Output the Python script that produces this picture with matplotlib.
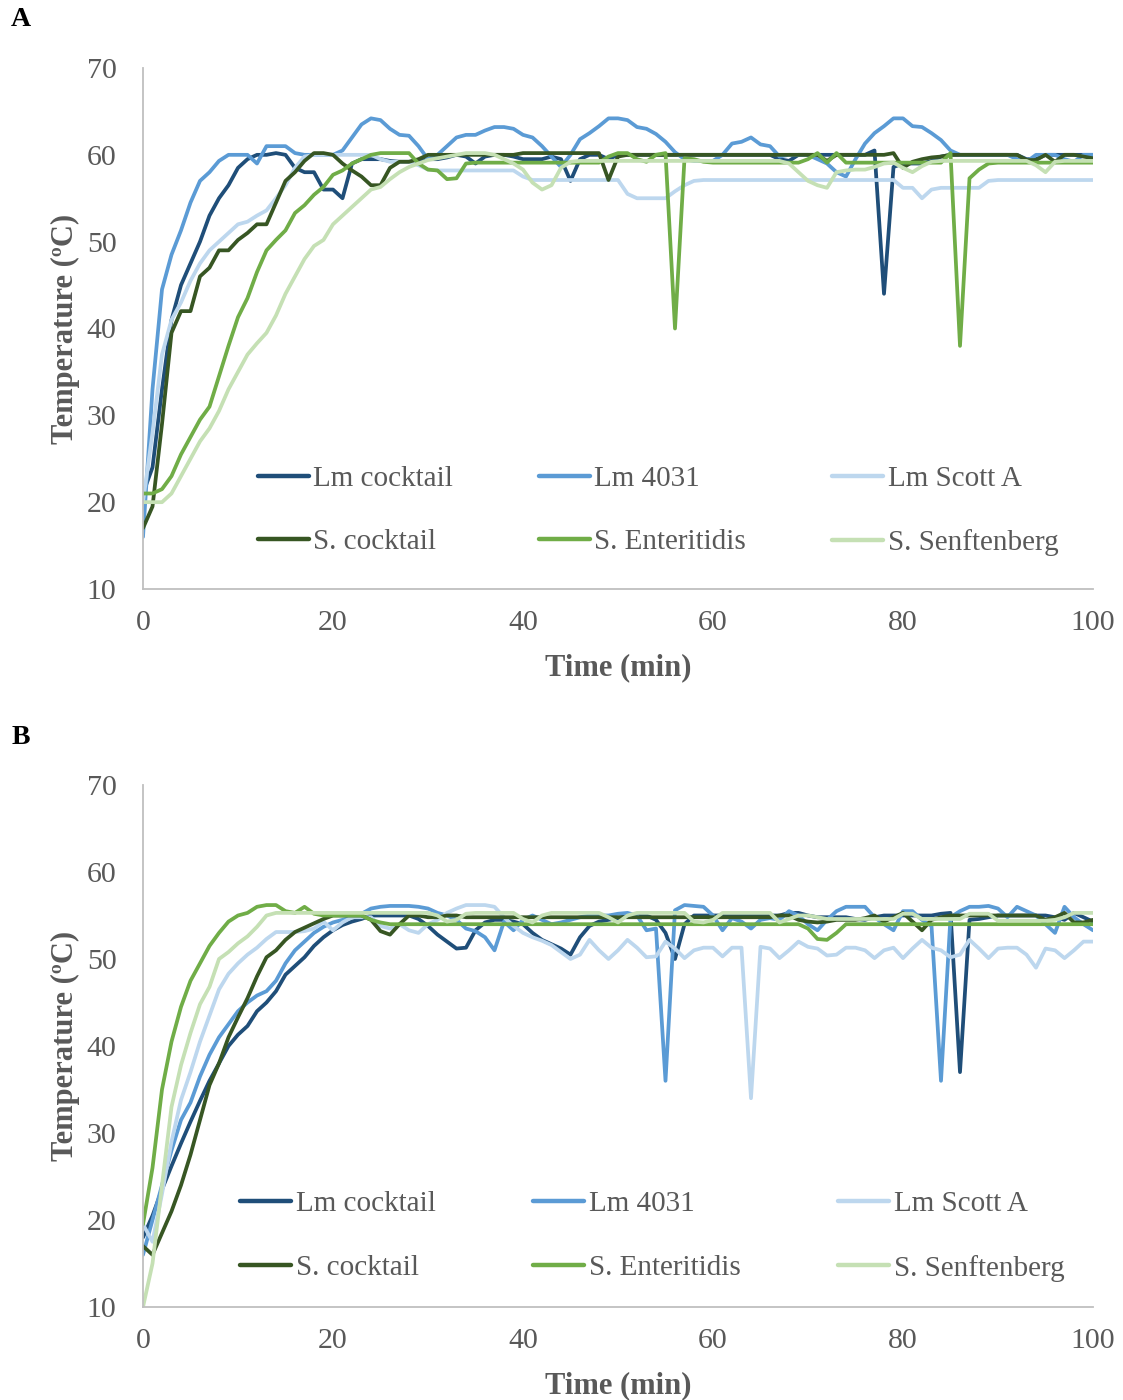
import matplotlib
matplotlib.use("Agg")
import matplotlib.pyplot as plt

# ---------------- data ----------------
time_min = list(range(0, 101))
series_names = ["Lm cocktail", "Lm 4031", "Lm Scott A",
                "S. cocktail", "S. Enteritidis", "S. Senftenberg"]
series_colors = ["#1F4E79", "#5B9BD5", "#BDD7EE", "#375623", "#70AD47", "#C5E0B4"]
x_ticks = [0, 20, 40, 60, 80, 100]
y_ticks = [10, 20, 30, 40, 50, 60, 70]

# Panel A
A_lm_cocktail = [
    21, 24, 33, 41, 45, 47.5, 50, 53, 55, 56.5,
    58.5, 59.5, 60, 60, 60.2, 60, 58.5, 58, 58, 56,
    56, 55, 59, 59.5, 59.5, 59.5, 59.3, 59.2, 59.2, 59.3,
    59.5, 59.5, 59.7, 60, 59.8, 59, 59.8, 60, 60, 59.8,
    59.5, 59.5, 59.5, 59.8, 59.5, 57, 59.5, 60, 60, 59.5,
    60, 60, 60, 60, 60, 60, 60, 60, 60, 60,
    60, 60, 60, 60, 60, 60, 60, 59.5, 59.3, 60,
    60, 60, 60, 60, 60, 60, 60, 60.5, 44, 58.6,
    59, 59, 59, 59.3, 59.8, 60, 60, 60, 60, 60,
    60, 60, 60, 59.5, 59.5, 60, 60, 60, 60, 60,
    60]
A_lm_4031 = [
    16, 33, 44.5, 48.5, 51.3, 54.5, 57, 58, 59.3, 60,
    60, 60, 59, 61, 61, 61, 60.2, 60, 60, 60,
    60, 60.5, 62, 63.5, 64.2, 64, 63, 62.3, 62.2, 61,
    59.5, 60, 61, 62, 62.3, 62.3, 62.8, 63.2, 63.2, 63,
    62.3, 62, 61, 59.8, 58.6, 60, 61.8, 62.5, 63.3, 64.2,
    64.2, 64, 63.2, 63, 62.4, 61.5, 60.3, 59.5, 59.3, 59.3,
    59.3, 60, 61.3, 61.5, 62, 61.2, 61, 59.8, 60, 60,
    60, 59.5, 59, 58, 57.5, 59.5, 61.3, 62.5, 63.3, 64.2,
    64.2, 63.3, 63.2, 62.5, 61.7, 60.5, 60, 60, 60, 60,
    60, 60, 59.5, 59.2, 60, 60, 60, 59.5, 59.2, 60,
    60]
A_lm_scottA = [
    20, 28, 37, 41, 43, 45.5, 47.5, 49, 50, 51,
    52, 52.3, 53, 53.6, 55, 56.5, 58.5, 59.8, 60, 60,
    60, 60, 60, 60, 60, 59.5, 59.2, 59.2, 59.2, 58.8,
    58.3, 58.2, 58.2, 58.2, 58.2, 58.2, 58.2, 58.2, 58.2, 58.2,
    57.5, 57.1, 57.1, 57.1, 57.1, 57.1, 57.1, 57.1, 57.1, 57.1,
    57.1, 55.5, 55, 55, 55, 55, 55.8, 56.5, 57, 57.1,
    57.1, 57.1, 57.1, 57.1, 57.1, 57.1, 57.1, 57.1, 57.1, 57.1,
    57.1, 57.1, 57.1, 57.1, 57.1, 57.1, 57.1, 57.1, 57.1, 57.1,
    56.2, 56.2, 55, 56, 56.2, 56.2, 56.2, 56.2, 56.2, 57,
    57.1, 57.1, 57.1, 57.1, 57.1, 57.1, 57.1, 57.1, 57.1, 57.1,
    57.1]
A_s_cocktail = [
    17, 19.5, 29, 39.5, 42, 42, 46, 47, 49, 49,
    50.2, 51, 52, 52, 54.5, 57, 58, 59.3, 60.2, 60.2,
    60, 59, 58.2, 57.5, 56.5, 56.5, 58.5, 59.2, 59.2, 59.5,
    60, 60, 60, 60, 60, 60, 60, 60, 60, 60,
    60.2, 60.2, 60.2, 60.2, 60.2, 60.2, 60.2, 60.2, 60.2, 57.1,
    59.8, 60, 60, 60, 60, 60, 60, 60, 60, 60,
    60, 60, 60, 60, 60, 60, 60, 60, 60, 60,
    60, 60, 59.3, 60, 60, 60, 60, 60, 60, 60.2,
    58.5, 59.2, 59.5, 59.7, 59.8, 60, 60, 60, 60, 60,
    60, 60, 60, 59.4, 59.4, 60, 59.2, 60, 60, 59.8,
    59.6]
A_s_enteritidis = [
    21, 21, 21.5, 23, 25.5, 27.5, 29.5, 31, 34.5, 38,
    41.3, 43.5, 46.5, 49, 50.2, 51.3, 53.3, 54.2, 55.4, 56.3,
    57.7, 58.2, 59, 59.5, 60, 60.2, 60.2, 60.2, 60.2, 59,
    58.3, 58.2, 57.2, 57.3, 59, 59.1, 59.1, 59.1, 59.1, 59.1,
    59.1, 59.1, 59.1, 59.1, 59.1, 59.1, 59.1, 59.1, 59.1, 59.8,
    60.2, 60.2, 59.5, 59.2, 60, 60.2, 40, 59.6, 59.5, 59.2,
    59.1, 59.1, 59.1, 59.1, 59.1, 59.1, 59.1, 59.1, 59.1, 59.1,
    59.5, 60.2, 59.1, 60.2, 59.1, 59.1, 59.1, 59.1, 59.1, 59.1,
    59.1, 59.1, 59.1, 59.1, 59.1, 60.2, 38, 57.3, 58.3, 59,
    59.1, 59.1, 59.1, 59.1, 59.1, 59.1, 59.1, 59.1, 59.1, 59.1,
    59.1]
A_s_senftenberg = [
    20, 20, 20, 21, 23, 25, 27, 28.5, 30.5, 33,
    35, 37, 38.3, 39.5, 41.5, 44, 46, 48, 49.5, 50.2,
    52, 53, 54, 55, 56, 56.3, 57.2, 58, 58.6, 59,
    59.4, 59.6, 59.8, 60, 60.2, 60.2, 60.2, 60, 59.5, 59,
    58.3, 56.8, 56, 56.5, 58.5, 59.2, 59.3, 59.3, 59.3, 59.3,
    59.3, 59.3, 59.3, 59.3, 59.3, 59.3, 59.3, 59.3, 59.3, 59.3,
    59.3, 59.3, 59.3, 59.3, 59.3, 59.3, 59.3, 59.3, 59, 58,
    57, 56.5, 56.2, 58, 58.2, 58.3, 58.3, 58.6, 59, 59.1,
    58.5, 58, 58.7, 59.2, 59.3, 59.3, 59.3, 59.3, 59.3, 59.3,
    59.3, 59.3, 59.3, 59.3, 58.8, 58, 59.2, 59.3, 59.3, 59.3,
    59.3]

# Panel B
B_lm_cocktail = [
    18, 20.5, 23.5, 26.2, 28.8, 31.3, 33.7, 36, 38, 40,
    41.3, 42.3, 44, 45, 46.3, 48.2, 49.2, 50.2, 51.5, 52.5,
    53.3, 53.9, 54.3, 54.6, 55, 55, 55, 55, 55, 54.6,
    53.8, 52.8, 52, 51.2, 51.3, 53.3, 54.2, 54.5, 54.5, 54.3,
    54, 53, 52.2, 51.7, 51.2, 50.5, 52.5, 53.8, 54.3, 54.5,
    54.7, 55, 55, 55, 54.5, 53, 50, 54, 55, 55,
    55, 55, 55, 55, 55, 55, 55, 55, 55.3, 55.3,
    55, 54.8, 54.8, 54.8, 54.8, 54.6, 54.5, 54.8, 55, 55,
    55, 55, 55, 55, 55.2, 55.3, 37, 54.5, 54.6, 54.8,
    55, 55, 55, 55, 55, 55, 54.8, 54.5, 55.3, 54.8,
    54.3]
B_lm_4031 = [
    16, 20, 24, 28, 31.5, 33.5, 36.5, 39, 41, 42.5,
    44, 45, 45.8, 46.3, 47.5, 49.5, 51, 52, 53, 53.7,
    54.2, 54.5, 54.8, 55.2, 55.8, 56, 56.1, 56.1, 56.1, 56,
    55.8, 55.3, 55, 54.5, 53.5, 53.2, 52.5, 51, 54.3, 53.3,
    54.5, 55, 54.5, 54, 54.2, 54.5, 54.8, 55, 55, 55,
    55.2, 55.3, 55, 53.3, 53.5, 36, 55.6, 56.2, 56.1, 56,
    55, 53.3, 54.7, 54.3, 53.5, 54.5, 54.7, 54.5, 55.5, 55,
    54, 53.3, 54.5, 55.5, 56, 56, 56, 54.8, 54, 53.3,
    55.5, 55.5, 54.5, 53.8, 36, 54.8, 55.5, 56, 56, 56.1,
    55.8, 54.8, 56, 55.5, 55, 54, 53, 56, 54.8, 54,
    53.3]
B_lm_scottA = [
    19.5, 17.5, 23, 29, 33.8, 37, 40.5, 43.5, 46.5, 48.3,
    49.5, 50.5, 51.3, 52.3, 53.1, 53.1, 53.1, 53.2, 53.5, 54.3,
    53.3, 54.2, 54.8, 54.8, 54.8, 53.8, 53.5, 54, 53.3, 53,
    54, 54.5, 55.3, 55.8, 56.2, 56.2, 56.2, 56, 54.8, 53.8,
    53, 52.5, 52.1, 51.6, 50.8, 50, 50.5, 52.2, 51, 50,
    51, 52.2, 51.3, 50.2, 50.3, 52, 51.2, 50.1, 51, 51.3,
    51.3, 50.3, 51.3, 51.3, 34, 51.4, 51.2, 50.1, 51, 52,
    51.4, 51.2, 50.4, 50.5, 51.3, 51.3, 51, 50.1, 51, 51.3,
    50.1, 51.2, 52.2, 51.3, 51, 50.2, 50.5, 52.2, 51.2, 50.1,
    51.2, 51.3, 51.3, 50.5, 49, 51.2, 51, 50.1, 51, 52,
    52]
B_s_cocktail = [
    17, 16, 18.5, 21, 24, 27.5, 31.5, 35.5, 38, 41,
    43.3, 45.5, 48, 50.2, 51, 52.2, 53.1, 53.6, 54.1, 54.6,
    55, 55, 55, 55, 54.5, 53.2, 52.8, 54, 55, 55,
    54.8, 54.8, 55, 55, 54.8, 54.8, 54.8, 54.8, 54.8, 54.8,
    54.8, 54.8, 54.8, 54.8, 54.8, 54.8, 54.8, 54.8, 54.8, 54.8,
    54.8, 54.8, 54.8, 54.8, 54.8, 54.8, 54.8, 54.8, 54.8, 54.8,
    54.8, 54.8, 54.8, 54.8, 54.8, 54.8, 54.8, 55, 55, 54.5,
    54.3, 54.2, 54.3, 54.5, 54.5, 54.5, 54.7, 55, 54.3, 54.8,
    55.3, 54.3, 53.3, 54.5, 54.8, 55, 55, 55, 55, 55,
    55, 55, 55, 55, 55, 54.5, 54.8, 55.3, 54.2, 54.2,
    54.5]
B_s_enteritidis = [
    19.5, 26, 35, 40.5, 44.5, 47.5, 49.5, 51.5, 53, 54.3,
    55, 55.3, 56, 56.2, 56.2, 55.5, 55.3, 56, 55.2, 55,
    55, 55, 55, 55, 54.5, 54.2, 54, 54, 54, 54,
    54, 54, 54, 54, 54, 54, 54, 54, 54, 54,
    54, 54, 54, 54, 54, 54, 54, 54, 54, 54,
    54, 54, 54, 54, 54, 54, 54, 54, 54, 54,
    54, 54, 54, 54, 54, 54, 54, 54, 54, 54,
    53.5, 52.3, 52.2, 53, 54, 54, 54, 54, 54, 54,
    54, 54, 54, 54, 54, 54, 54, 54, 54, 54,
    54, 54, 54, 54, 54, 54, 54, 54, 54, 54,
    54]
B_s_senftenberg = [
    10, 15, 24, 33, 37.8, 41.5, 44.8, 46.8, 50, 50.8,
    51.8, 52.6, 53.7, 55, 55.3, 55.3, 55.3, 55.3, 55.3, 55.3,
    55.3, 55.3, 55.3, 55.3, 55.3, 55.3, 55.3, 55.3, 55.3, 55.3,
    55.3, 55, 54.3, 54.5, 55.2, 55.3, 55.3, 55.3, 55.3, 55.3,
    54.6, 54.2, 55, 55.3, 55.3, 55.3, 55.3, 55.3, 55.3, 54.8,
    54.2, 55, 55.3, 55.3, 55.3, 55.3, 55.3, 55.3, 54.3, 54.2,
    54.5, 55.3, 55.3, 55.3, 55.3, 55.3, 55.3, 54.2, 54.6, 55,
    55, 54.8, 54.6, 54.6, 54.6, 54.6, 54.6, 54.6, 54.6, 54.6,
    55.2, 55.2, 54.6, 54.6, 54.6, 54.6, 54.6, 55.2, 55.2, 55.2,
    54.4, 54.4, 54.4, 54.4, 54.4, 54.4, 54.5, 54.8, 55.3, 55.3,
    55.3]

panel_A = [A_lm_cocktail, A_lm_4031, A_lm_scottA, A_s_cocktail, A_s_enteritidis, A_s_senftenberg]
panel_B = [B_lm_cocktail, B_lm_4031, B_lm_scottA, B_s_cocktail, B_s_enteritidis, B_s_senftenberg]

# ---------------- drawing ----------------
plt.rcParams["font.family"] = ["Liberation Serif", "DejaVu Serif"]
W, H = 1123, 1400
fig = plt.figure(figsize=(W / 100, H / 100), dpi=100)

GRAY = "#595959"
SPINE = "#BFBFBF"


def make_panel(top_px, bottom_px, data, letter, leg_center, colspacing, labelspacing):
    left_px, right_px = 143, 1093
    ax = fig.add_axes([left_px / W, 1 - bottom_px / H,
                       (right_px - left_px) / W, (bottom_px - top_px) / H])
    lines = []
    for vals, name, col in zip(data, series_names, series_colors):
        ln, = ax.plot(time_min, vals, color=col, lw=2.7, label=name,
                      solid_joinstyle="round", solid_capstyle="round")
        lines.append(ln)
    ax.set_xlim(0, 100)
    ax.set_ylim(10, 70)
    ax.set_xticks(x_ticks)
    ax.set_yticks(y_ticks)
    for s in ["top", "right"]:
        ax.spines[s].set_visible(False)
    for s in ["left", "bottom"]:
        ax.spines[s].set_color(SPINE)
        ax.spines[s].set_linewidth(1.3)
    ax.tick_params(axis="both", length=0, labelsize=21.5, labelcolor=GRAY)
    ax.tick_params(axis="y", pad=19)
    ax.tick_params(axis="x", pad=15)
    # row-major legend order (matplotlib fills columns first)
    order = [0, 3, 1, 4, 2, 5]
    leg = ax.legend([lines[i] for i in order], [series_names[i] for i in order],
                    loc="center", bbox_to_anchor=leg_center, ncol=3,
                    frameon=False, fontsize=21, handlelength=1.75,
                    handletextpad=0.15, columnspacing=colspacing,
                    labelspacing=labelspacing, borderpad=0, borderaxespad=0)
    for t in leg.get_texts():
        t.set_color(GRAY)
    for h in leg.get_lines():
        h.set_linewidth(3.2)
    # axis titles
    cy = (top_px + bottom_px) / 2
    fig.text(65 / W, 1 - cy / H, "Temperature (ºC)", rotation=90,
             ha="center", va="center", fontsize=22, fontweight="bold", color=GRAY)
    fig.text(618 / W, 1 - (bottom_px + 79) / H, "Time (min)",
             ha="center", va="center", fontsize=22, fontweight="bold", color=GRAY)
    fig.text(21 / W, 1 - (top_px - 48) / H, letter, ha="center", va="center",
             fontsize=20, fontweight="bold", color="black")
    return ax


make_panel(68, 589, panel_A, "A", (0.542, 0.150), 2.95, 1.25)
make_panel(785, 1307, panel_B, "B", (0.536, 0.136), 3.35, 1.3)

fig.savefig("out.png", dpi=100)
